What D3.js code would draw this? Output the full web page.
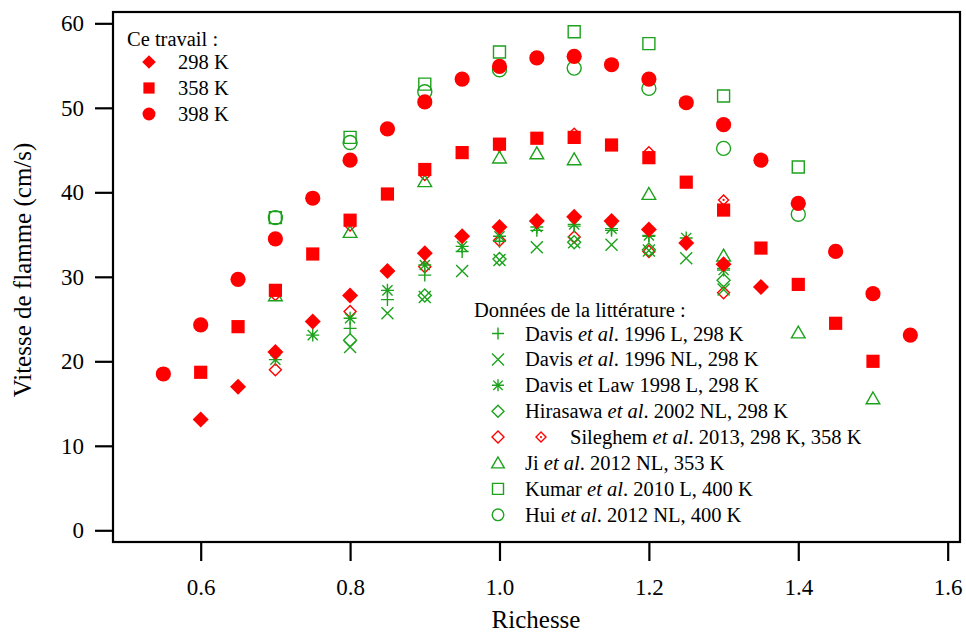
<!DOCTYPE html>
<html><head><meta charset="utf-8">
<script src="https://cdn.jsdelivr.net/npm/d3@7/dist/d3.min.js"></script>
<style>
html,body{margin:0;padding:0;background:#fff;}
svg{display:block;}
svg text{font-family:"Liberation Serif","Times New Roman",serif !important;fill:#000;}
</style></head>
<body><svg id="chart" width="966" height="632"></svg>
<script>
// ---- Data (Richesse, vitesse cm/s) ----
const xTicks = [0.6, 0.8, 1.0, 1.2, 1.4, 1.6];
const yTicks = [0, 10, 20, 30, 40, 50, 60];

// Ce travail
const work298 = [[0.60,13.1],[0.65,17.0],[0.70,21.1],[0.75,24.7],[0.80,27.8],[0.85,30.7],[0.90,32.8],[0.95,34.8],[1.00,35.9],[1.05,36.6],[1.10,37.1],[1.15,36.6],[1.20,35.6],[1.25,34.0],[1.30,31.5],[1.35,28.8]];
const work358 = [[0.60,18.7],[0.65,24.1],[0.70,28.4],[0.75,32.7],[0.80,36.7],[0.85,39.8],[0.90,42.7],[0.95,44.7],[1.00,45.7],[1.05,46.4],[1.10,46.5],[1.15,45.6],[1.20,44.1],[1.25,41.2],[1.30,37.9],[1.35,33.4],[1.40,29.1],[1.45,24.5],[1.50,20.0]];
const work398 = [[0.55,18.5],[0.60,24.3],[0.65,29.7],[0.70,34.5],[0.75,39.3],[0.80,43.8],[0.85,47.5],[0.90,50.7],[0.95,53.4],[1.00,54.9],[1.05,55.9],[1.10,56.1],[1.15,55.1],[1.20,53.4],[1.25,50.6],[1.30,48.0],[1.35,43.8],[1.40,38.7],[1.45,33.0],[1.50,28.0],[1.55,23.1]];

// Littérature
const davisL1996 = [[0.80,23.9],[0.85,27.3],[0.90,30.2],[0.95,33.0],[1.00,34.2],[1.05,35.5],[1.10,36.0],[1.15,35.5],[1.20,34.8],[1.30,31.0]];
const davisNL1996 = [[0.80,21.7],[0.85,25.7],[0.90,27.6],[0.95,30.7],[1.00,32.0],[1.05,33.5],[1.10,34.1],[1.15,33.8],[1.20,33.1],[1.25,32.2],[1.30,28.5]];
const davisLaw1998 = [[0.70,20.2],[0.75,23.1],[0.80,25.1],[0.85,28.4],[0.90,31.4],[0.95,33.6],[1.00,34.8],[1.05,35.9],[1.10,36.2],[1.15,35.7],[1.20,34.9],[1.25,34.6],[1.30,30.8]];
const hirasawa2002 = [[0.80,22.5],[0.90,27.8],[1.00,32.1],[1.10,34.1],[1.20,33.2],[1.30,29.6]];
const sileghem298 = [[0.70,19.0],[0.80,25.9],[0.90,31.2],[1.00,34.3],[1.10,34.7],[1.20,33.0],[1.30,28.1]];
const sileghem358 = [[0.70,27.8],[0.80,36.0],[0.90,42.0],[1.00,45.4],[1.10,47.0],[1.20,44.8],[1.30,39.1]];
const ji2012 = [[0.70,27.8],[0.80,35.3],[0.90,41.3],[1.00,44.1],[1.05,44.6],[1.10,43.9],[1.20,39.8],[1.30,32.5],[1.40,23.4],[1.50,15.6]];
const kumar2010 = [[0.70,37.0],[0.80,46.5],[0.90,52.8],[1.00,56.6],[1.10,59.0],[1.20,57.6],[1.30,51.4],[1.40,43.0]];
const hui2012 = [[0.70,37.0],[0.80,45.9],[0.90,51.9],[1.00,54.5],[1.10,54.7],[1.20,52.3],[1.30,45.2],[1.40,37.4]];

const workLabels = ["298 K", "358 K", "398 K"];
const titleWork = "Ce travail :";
const titleLit = "Données de la littérature :";

// ---- Layout ----
const RED = "#ff0000", GREEN = "#1ca21c";
const FONT = "Liberation Serif";
const svg = d3.select("#chart");
const L = 113, R = 960, T = 12, B = 542;
const x = d3.scaleLinear().domain([0.4826, 1.6165]).range([L, R]);
const y = d3.scaleLinear().domain([-1.385, 61.34]).range([B, T]);

function mPath(type, s) {
  switch (type) {
    case "plus": return `M${-s},0H${s}M0,${-s}V${s}`;
    case "cross": return `M${-s},${-s}L${s},${s}M${-s},${s}L${s},${-s}`;
    case "aster": { const d = s * 0.78; return `M${-s},0H${s}M0,${-s}V${s}M${-d},${-d}L${d},${d}M${-d},${d}L${d},${-d}`; }
    case "diamond": return `M0,${-s}L${s},0L0,${s}L${-s},0Z`;
    case "square": return `M${-s},${-s}H${s}V${s}H${-s}Z`;
    case "triangle": return `M0,${-s}L${s*1.05},${s*0.82}H${-s*1.05}Z`;
    case "circle": return `M${s},0A${s},${s} 0 1,1 ${-s},0A${s},${s} 0 1,1 ${s},0Z`;
  }
}
function drawMarker(g, type, s, px, py, color, filled, sw) {
  g.append("path").attr("d", mPath(type, s)).attr("transform", `translate(${px},${py})`)
    .attr("fill", filled ? color : "none").attr("stroke", filled ? "none" : color)
    .attr("stroke-width", sw || 1.4);
}
function dottedDiamond(g, px, py) {
  drawMarker(g, "diamond", 5, px, py, RED, false, 1.4);
  g.append("circle").attr("cx", px).attr("cy", py).attr("r", 1.1).attr("fill", RED);
}

const litSeries = [
  {data: sileghem358, type: "dd"},
  {data: sileghem298, type: "diamond", s: 6, color: RED},
  {data: hirasawa2002, type: "diamond", s: 6.5, color: GREEN},
  {data: davisNL1996, type: "cross", s: 6, color: GREEN},
  {data: davisL1996, type: "plus", s: 6.5, color: GREEN},
  {data: davisLaw1998, type: "aster", s: 6.5, color: GREEN},
  {data: ji2012, type: "triangle", s: 6.5, color: GREEN},
  {data: kumar2010, type: "square", s: 6, color: GREEN},
  {data: hui2012, type: "circle", s: 7, color: GREEN}
];
const workSeries = [
  {data: work298, type: "diamond", s: 8},
  {data: work358, type: "square", s: 6.6},
  {data: work398, type: "circle", s: 7.6}
];

const plot = svg.append("g");
litSeries.forEach(sr => {
  sr.data.forEach(d => {
    if (sr.type === "dd") dottedDiamond(plot, x(d[0]), y(d[1]));
    else drawMarker(plot, sr.type, sr.s, x(d[0]), y(d[1]), sr.color, false, 1.4);
  });
});
workSeries.forEach(sr => {
  sr.data.forEach(d => drawMarker(plot, sr.type, sr.s, x(d[0]), y(d[1]), RED, true));
});

// frame
svg.append("rect").attr("x", L).attr("y", T).attr("width", R - L).attr("height", B - T)
  .attr("fill", "none").attr("stroke", "#000").attr("stroke-width", 2.2);

// axes
const yAxis = svg.append("g").attr("transform", `translate(${L},0)`)
  .call(d3.axisLeft(y).tickValues(yTicks).tickSize(18).tickPadding(11).tickFormat(d3.format("d")));
const xAxis = svg.append("g").attr("transform", `translate(0,${B})`)
  .call(d3.axisBottom(x).tickValues(xTicks).tickSize(19).tickPadding(18).tickFormat(d3.format(".1f")));
[yAxis, xAxis].forEach(a => {
  a.attr("font-family", FONT).attr("font-size", 23);
  a.select(".domain").remove();
  a.selectAll(".tick line").attr("stroke", "#000").attr("stroke-width", 2.2);
  a.selectAll(".tick text").attr("font-family", FONT).attr("font-size", 23).attr("fill", "#000");
});

// axis titles
svg.append("text").attr("x", 536).attr("y", 628).attr("text-anchor", "middle")
  .attr("font-family", FONT).attr("font-size", 25).text("Richesse");
svg.append("text").attr("transform", "translate(31,270) rotate(-90)").attr("text-anchor", "middle")
  .attr("font-family", FONT).attr("font-size", 25).text("Vitesse de flamme (cm/s)");

// legend: Ce travail
const LF = 20.5;
const lg1 = svg.append("g").attr("font-family", FONT);
lg1.append("text").attr("x", 127).attr("y", 46).attr("font-size", LF).text(titleWork);
workSeries.forEach((sr, i) => {
  const cy = 62 + i * 26;
  drawMarker(lg1, sr.type, sr.s * 0.85, 149, cy, RED, true);
  lg1.append("text").attr("x", 178).attr("y", cy + 7).attr("font-size", LF).text(workLabels[i]);
});

// legend: littérature
const lg2 = svg.append("g").attr("font-family", FONT);
lg2.append("text").attr("x", 474).attr("y", 317).attr("font-size", LF).text(titleLit);
const litLegend = [
  {type: "plus", s: 6, color: GREEN, parts: [["Davis ", false], ["et al", true], [". 1996 L, 298 K", false]]},
  {type: "cross", s: 6, color: GREEN, parts: [["Davis ", false], ["et al", true], [". 1996 NL, 298 K", false]]},
  {type: "aster", s: 6, color: GREEN, parts: [["Davis et Law 1998 L, 298 K", false]]},
  {type: "diamond", s: 6, color: GREEN, parts: [["Hirasawa ", false], ["et al", true], [". 2002 NL, 298 K", false]]},
  {type: "sil", parts: [["Sileghem ", false], ["et al", true], [". 2013, 298 K, 358 K", false]]},
  {type: "triangle", s: 6, color: GREEN, parts: [["Ji ", false], ["et al", true], [". 2012 NL, 353 K", false]]},
  {type: "square", s: 5.5, color: GREEN, parts: [["Kumar ", false], ["et al", true], [". 2010 L, 400 K", false]]},
  {type: "circle", s: 5.8, color: GREEN, parts: [["Hui ", false], ["et al", true], [". 2012 NL, 400 K", false]]}
];
litLegend.forEach((it, i) => {
  const cy = 333.5 + i * 25.9;
  let tx = 525;
  if (it.type === "sil") {
    drawMarker(lg2, "diamond", 6, 498, cy, RED, false, 1.4);
    dottedDiamond(lg2, 541, cy);
    tx = 570;
  } else {
    drawMarker(lg2, it.type, it.s, 498, cy, it.color, false, 1.4);
  }
  const t = lg2.append("text").attr("x", tx).attr("y", cy + 7).attr("font-size", LF);
  it.parts.forEach(p => t.append("tspan").attr("font-style", p[1] ? "italic" : "normal").text(p[0]));
});
</script></body></html>
